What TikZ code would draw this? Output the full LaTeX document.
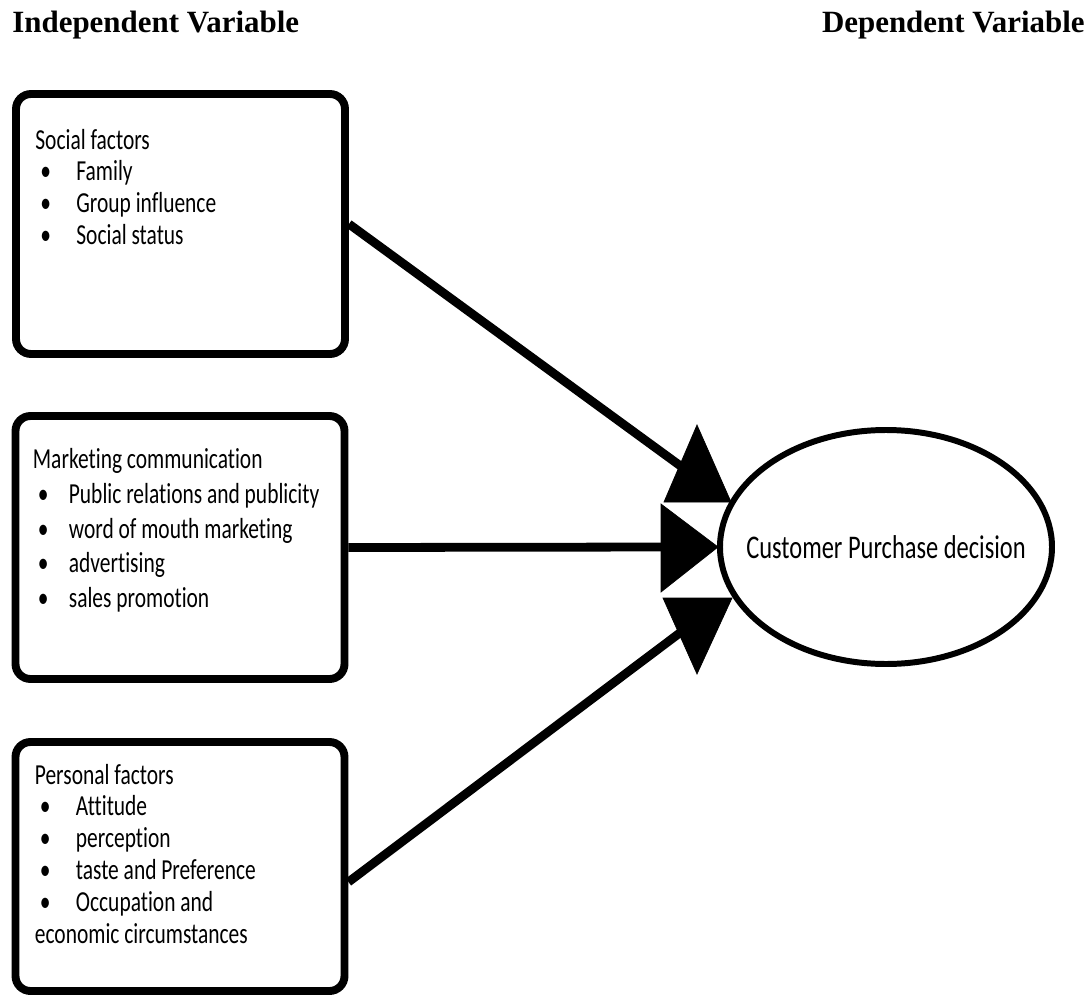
\documentclass[tikz,border=0pt]{standalone}
\usepackage{fontspec}
\setmainfont{Liberation Serif}
\newfontfamily\bodyfont[FakeStretch=0.74, Ligatures=NoCommon]{Carlito}
\usetikzlibrary{shapes.geometric,positioning}

\tikzset{
  factorbox/.style={draw, line width=4.5pt, rounded corners=0.3cm, minimum width=6.58cm, inner sep=0pt},
  factortext/.style={anchor=north west, inner sep=0pt, align=left, font={\bodyfont\fontsize{16.5}{18.1}\selectfont}},
  heading/.style={font={\bfseries\fontsize{17.6}{20}\selectfont}, inner sep=0pt},
  link/.style={line width=5pt},
  tip/.style={fill=black},
}
\newcommand{\bulitem}[2][0.82cm]{\makebox[#1][l]{\hspace{0.1cm}\textbullet}#2}

\begin{document}
\begin{tikzpicture}
        \useasboundingbox (0,0) rectangle (21.84,-19.92);

         % Titoli
        \node[heading, anchor=base west] (indep) at (0.24,-0.66) {Independent Variable};
        \node[heading, anchor=base east] (dep) at (21.7,-0.66) {Dependent Variable};

         % Riquadri dei fattori
        \node[factorbox, minimum height=5.2cm] (social) at (3.61,-4.48) {};
        \node[factorbox, minimum height=5.26cm] (market) at (3.6,-10.95) {};
        \node[factorbox, minimum height=4.98cm] (personal) at (3.6,-17.33) {};

        \node[factortext, below right=0.77cm and 0.46cm of social.north west] (socialtxt)
            {Social factors\\ \bulitem{Family}\\ \bulitem{Group influence}\\ \bulitem{Social status}};
        \node[factortext, font={\bodyfont\fontsize{16.5}{19.8}\selectfont}, below right=0.72cm and 0.42cm of market.north west] (markettxt)
            {Marketing communication\\ \bulitem[0.72cm]{Public relations and publicity}\\ \bulitem[0.72cm]{word of mouth marketing}\\
             \bulitem[0.72cm]{advertising}\\ \bulitem[0.72cm]{sales promotion}};
        \node[factortext, below right=0.51cm and 0.46cm of personal.north west] (personaltxt)
            {Personal factors\\ \bulitem{Attitude}\\ \bulitem{perception}\\ \bulitem{taste and Preference}\\
             \bulitem{Occupation and}\\ economic circumstances};

         % Variabile dipendente
        \node[draw, ellipse, line width=3.4pt, minimum width=6.64cm, minimum height=4.68cm, inner sep=0pt] (decision) at (17.72,-10.94) {};
        \node[font={\bodyfont\fontsize{18.8}{20}\selectfont}, inner sep=0pt] (decisiontxt) at (decision.center) {Customer Purchase decision};

         % Collegamenti
        \coordinate (toptip) at (13.94,-9.56);
        \coordinate (midtip) at (13.6,-10.94);
        \coordinate (bottip) at (13.94,-12.4);
        \draw[link] (social.east) -- (toptip);
        \draw[link] (market.east) -- (midtip);
        \draw[link] ([yshift=-0.31cm]personal.east) -- (bottip);

         % Punte
        \filldraw[tip] (13.94,-8.5) -- (13.28,-10.04) -- (14.62,-10.04) -- cycle;
        \filldraw[tip] (13.22,-10.08) -- (13.22,-11.84) -- (14.36,-10.94) -- cycle;
        \filldraw[tip] (13.26,-11.96) -- (14.64,-11.96) -- (13.94,-13.48) -- cycle;
    \end{tikzpicture}
\end{document}
